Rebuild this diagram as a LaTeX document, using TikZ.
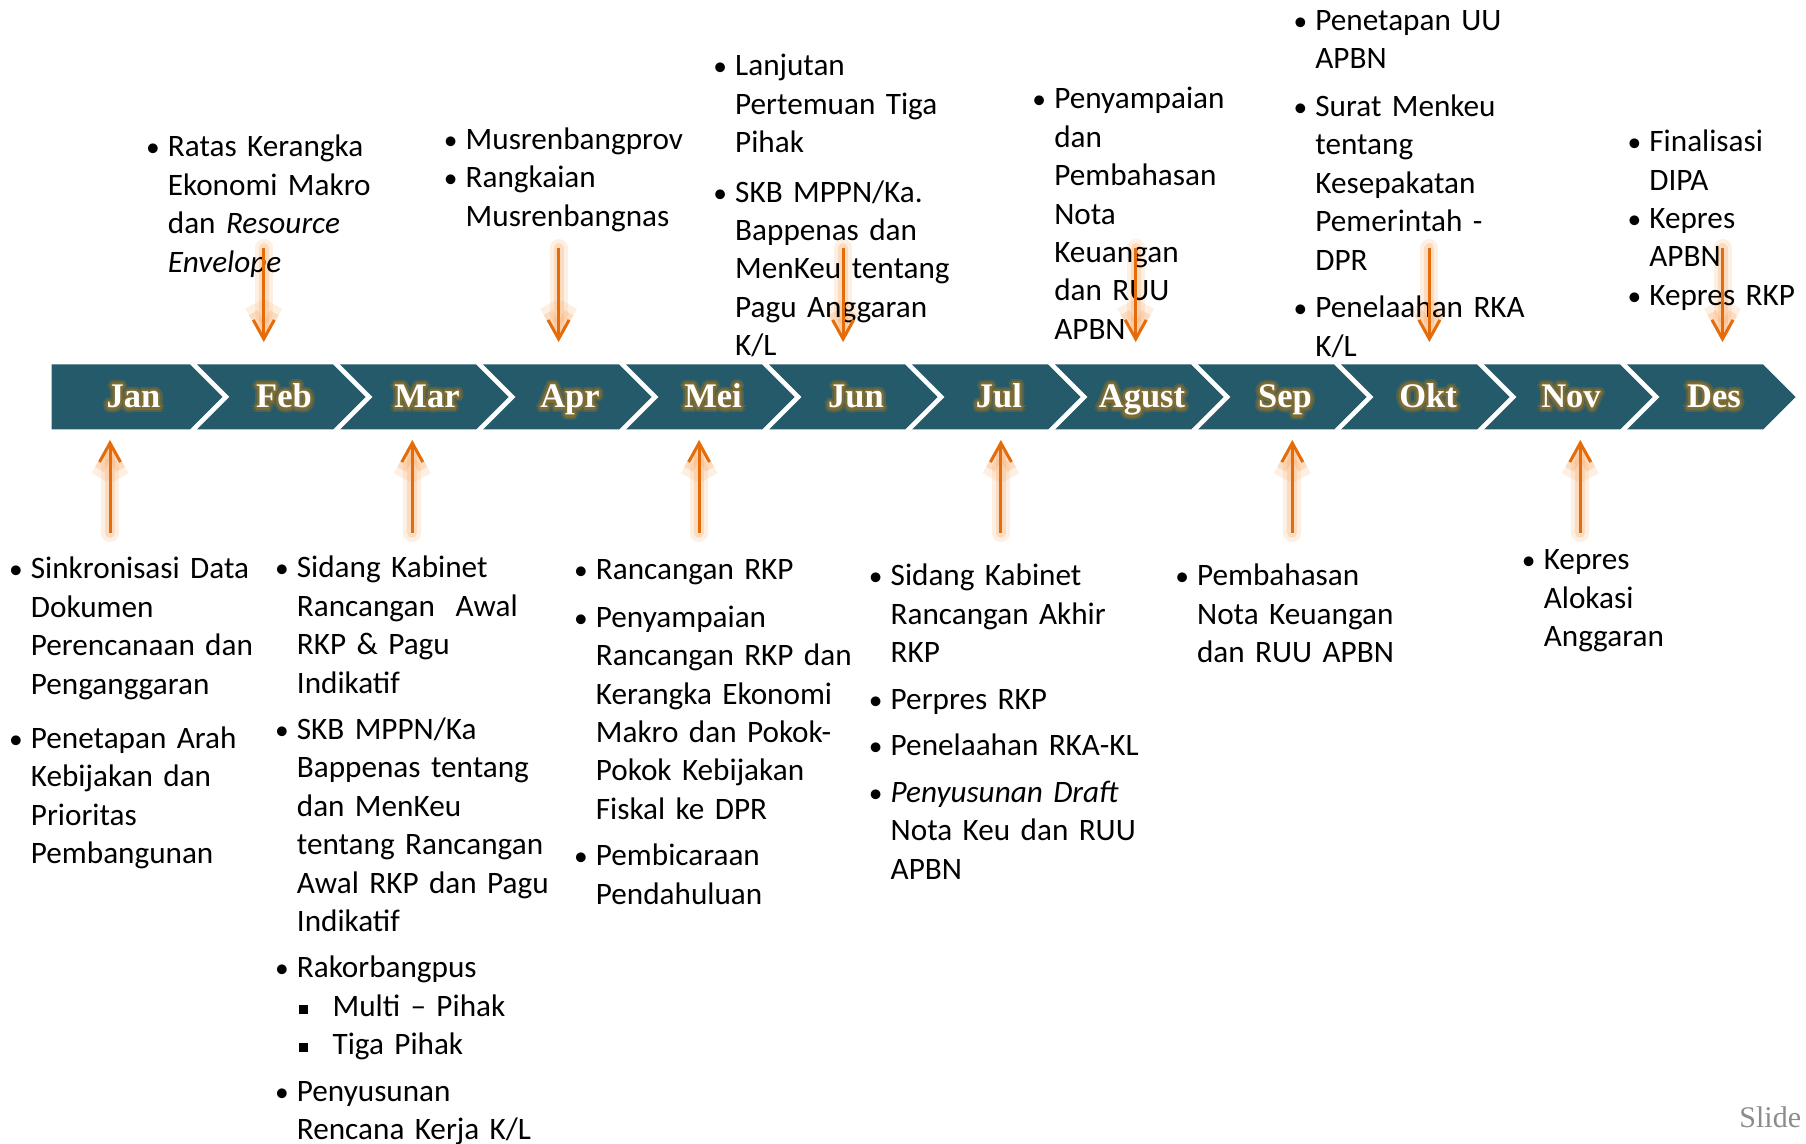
\documentclass[tikz,border=0pt]{standalone}
\usepackage{fontspec}
\setmainfont{Carlito}
\newfontfamily\monthfamily{Liberation Serif}
\usepackage[copies]{contour}
\usetikzlibrary{positioning,arrows.meta}

\definecolor{barteal}{HTML}{245A6A}
\definecolor{glowin}{HTML}{7E6C35}
\definecolor{glowout}{HTML}{4F6350}
\definecolor{arrorange}{HTML}{E46C0A}
\definecolor{glowsoft}{HTML}{F79646}
\definecolor{slidegray}{HTML}{8C8C8C}

\newcommand{\txtfont}{\fontsize{15.6pt}{19.2pt}\selectfont}
\newcommand{\bul}{\makebox[15pt][c]{\scalebox{0.88}{\textbullet}}}
\newcommand{\ind}{\hspace*{15pt}}
\newcommand{\sqbul}{\ind\makebox[17.85pt][l]{\hspace*{1.2pt}\rule[1.4pt]{4.3pt}{4.3pt}}}

\begin{document}
\begin{tikzpicture}[
    x=0.5pt, y=-0.5pt,
    month/.style={fill=barteal},
    mlabel/.style={anchor=base, inner sep=0pt, text=white,
                   font=\monthfamily\bfseries\fontsize{17.25pt}{20pt}\selectfont},
    blk/.style={anchor=base west, inner sep=0pt, text width=300pt, align=left,
                font=\txtfont, execute at begin node=\txtfont},
    glowA/.style={draw=glowsoft, draw opacity=0.15, line width=9pt, line cap=round,
                  line join=round, -{Straight Barb[length=9.5pt,width=10.5pt]}},
    glowB/.style={draw=glowsoft, draw opacity=0.22, line width=5pt, line cap=round,
                  line join=round, -{Straight Barb[length=9.5pt,width=10.5pt]}},
    arr/.style={draw=arrorange, line width=1.5pt,
                -{Straight Barb[length=9.5pt,width=10.5pt]}}
  ]
  \useasboundingbox (0,0) rectangle (1806,1144);

  % ---- month chevrons ----
  \foreach \m [count=\i from 0] in {Jan,Feb,Mar,Apr,Mei,Jun,Jul,Agust,Sep,Okt,Nov,Des} {
    \pgfmathsetmacro{\xr}{190+143*\i}
    \pgfmathsetmacro{\xl}{\i==0 ? 51.5 : 54+143*\i}
    \pgfmathsetmacro{\xn}{\i==0 ? 51.5 : 86.5+143*\i}
    \pgfmathsetmacro{\xc}{\i==0 ? 133.5 : 141+143*\i}
    \fill[month] (\xl,364.5) -- (\xr,364.5) -- ({\xr+32.5},397) -- (\xr,429.5)
      -- (\xl,429.5) -- (\xn,397) -- cycle;
    \node[mlabel] (g\i) at (\xc,408) {\contourlength{2.3pt}\contour{glowout}{\m}};
    \node[mlabel] (m\i) at (\xc,408) {\contourlength{1.1pt}\contour{glowin}{\m}};
  }

  % ---- arrow end points ----
  \foreach \x [count=\j] in {110,412.3,699.1,1000.9,1292.3,1580.3} {
    \coordinate (us\j) at (\x,533);
    \coordinate (ue\j) at (\x,440);
  }
  \foreach \x [count=\j] in {263.8,558.6,843.1,1135.7,1429.4,1722.5} {
    \coordinate (ds\j) at (\x,248);
    \coordinate (de\j) at (\x,342);
  }

  % ---- arrow glow ----
  \foreach \j in {1,...,6} {
    \draw[glowA] (us\j) -- (ue\j);
    \draw[glowB] (us\j) -- (ue\j);
    \draw[glowA] (ds\j) -- (de\j);
    \draw[glowB] (ds\j) -- (de\j);
  }

  % ---- notes above the bar ----
  \node[blk] (tFeb) at (137.5,157)
    {\bul Ratas Kerangka\\ \ind Ekonomi Makro\\ \ind dan \textit{Resource}\\ \ind\textit{Envelope}};
  \node[blk] (tApr) at (435.3,149.4)
    {\bul Musrenbangprov\\ \bul Rangkaian\\ \ind Musrenbangnas};
  \node[blk] (tJun) at (704.8,75.7)
    {\bul Lanjutan\\ \ind Pertemuan Tiga\\ \ind Pihak\\[5.6pt]
     \bul SKB MPPN/Ka.\\ \ind Bappenas dan\\ \ind MenKeu tentang\\ \ind Pagu Anggaran\\ \ind K/L};
  \node[blk] (tAgu) at (1023.9,109)
    {\bul Penyampaian\\ \ind dan\\ \ind Pembahasan\\ \ind Nota\\ \ind Keuangan\\ \ind dan RUU\\ \ind APBN};
  \node[blk] (tOkt) at (1285,30.5)
    {\bul Penetapan UU\\ \ind APBN\\[4.6pt]
     \bul Surat Menkeu\\ \ind tentang\\ \ind Kesepakatan\\ \ind Pemerintah -\\ \ind DPR\\[4.6pt]
     \bul Penelaahan RKA\\ \ind K/L};
  \node[blk] (tDes) at (1619,151.7)
    {\bul Finalisasi\\ \ind DIPA\\ \bul Kepres\\ \ind APBN\\ \bul Kepres RKP};

  % ---- notes below the bar ----
  \node[blk] (bJan) at (0.5,579)
    {\bul Sinkronisasi Data\\ \ind Dokumen\\ \ind Perencanaan dan\\ \ind Penganggaran\\[7.9pt]
     \bul Penetapan Arah\\ \ind Kebijakan dan\\ \ind Prioritas\\ \ind Pembangunan};
  \node[blk] (bMar) at (266.5,578)
    {\bul Sidang Kabinet\\ \ind Rancangan~~Awal\\ \ind RKP \& Pagu\\ \ind Indikatif\\[4pt]
     \bul SKB MPPN/Ka\\ \ind Bappenas tentang\\ \ind dan MenKeu\\ \ind tentang Rancangan\\
     \ind Awal RKP dan Pagu\\ \ind Indikatif\\[4pt]
     \bul Rakorbangpus\\ \sqbul Multi – Pihak\\ \sqbul Tiga Pihak\\[4pt]
     \bul Penyusunan\\ \ind Rencana Kerja K/L};
  \node[blk] (bMei) at (565.5,580)
    {\bul Rancangan RKP\\[4.5pt]
     \bul Penyampaian\\ \ind Rancangan RKP dan\\ \ind Kerangka Ekonomi\\ \ind Makro dan Pokok-\\
     \ind Pokok Kebijakan\\ \ind Fiskal ke DPR\\[4pt]
     \bul Pembicaraan\\ \ind Pendahuluan};
  \node[blk] (bJul) at (860.3,585.9)
    {\bul Sidang Kabinet\\ \ind Rancangan Akhir\\ \ind RKP\\[4pt]
     \bul Perpres RKP\\[4pt]
     \bul Penelaahan RKA-KL\\[4.3pt]
     \bul \textit{Penyusunan Draft}\\ \ind Nota Keu dan RUU\\ \ind APBN};
  \node[blk] (bSep) at (1166.7,585.9)
    {\bul Pembahasan\\ \ind Nota Keuangan\\ \ind dan RUU APBN};
  \node[blk] (bNov) at (1513.4,569.8)
    {\bul Kepres\\ \ind Alokasi\\ \ind Anggaran};

  % ---- arrows ----
  \foreach \j in {1,...,6} {
    \draw[arr] (us\j) -- (ue\j);
    \draw[arr] (ds\j) -- (de\j);
  }

  \node[anchor=base west, inner sep=0pt, text=slidegray,
        font=\monthfamily\fontsize{15pt}{18pt}\selectfont] (slide) at (1739,1127) {Slide};
\end{tikzpicture}
\end{document}
